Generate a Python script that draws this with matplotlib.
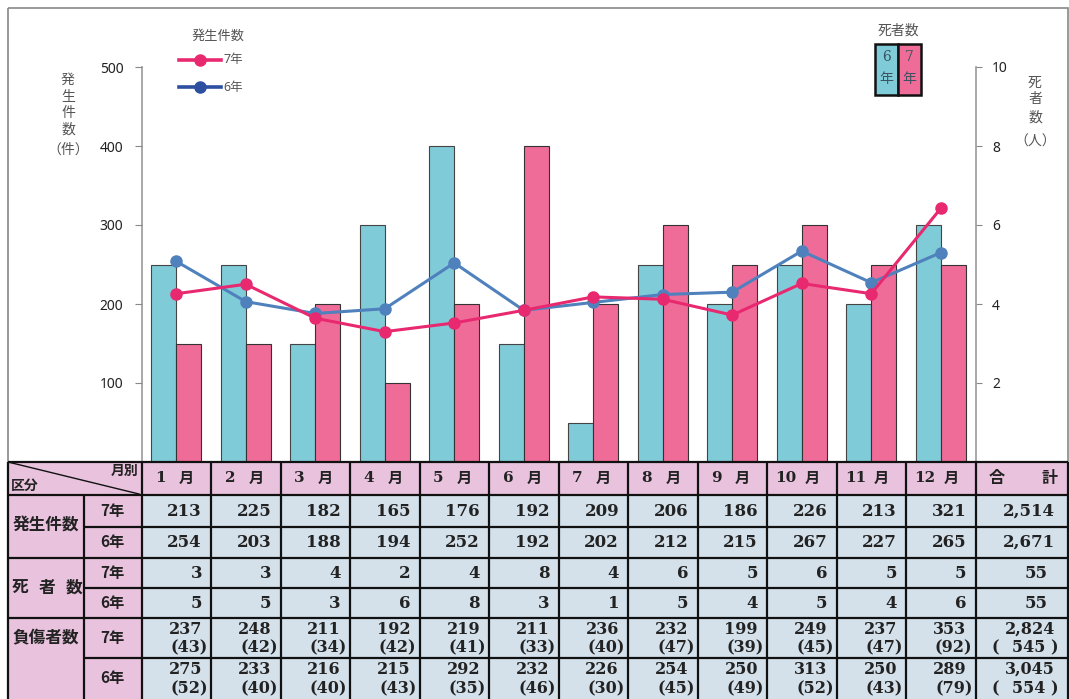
import matplotlib.pyplot as plt
import numpy as np
from matplotlib.patches import Rectangle

plt.rcParams['font.family'] = ['Noto Sans', 'Noto Sans CJK JP', 'DejaVu Sans']

months = ['1', '2', '3', '4', '5', '6', '7', '8', '9', '10', '11', '12']
inc7 = [213, 225, 182, 165, 176, 192, 209, 206, 186, 226, 213, 321]
inc6 = [254, 203, 188, 194, 252, 192, 202, 212, 215, 267, 227, 265]
dead7 = [3, 3, 4, 2, 4, 8, 4, 6, 5, 6, 5, 5]
dead6 = [5, 5, 3, 6, 8, 3, 1, 5, 4, 5, 4, 6]
inj7 = [237, 248, 211, 192, 219, 211, 236, 232, 199, 249, 237, 353]
inj7_sev = [43, 42, 34, 42, 41, 33, 40, 47, 39, 45, 47, 92]
inj6 = [275, 233, 216, 215, 292, 232, 226, 254, 250, 313, 250, 289]
inj6_sev = [52, 40, 40, 43, 35, 46, 30, 45, 49, 52, 43, 79]

W, H = 1069, 699
C_BAR6 = '#80CBD8'
C_BAR7 = '#F06C98'
C_LINE7 = '#E8296F'
C_LINE6 = '#4F81BD'
C_HEAD = '#E9C3DE'
C_CELL = '#D4E1EB'

fig = plt.figure(figsize=(W / 100, H / 100), dpi=100)
ax = fig.add_axes([141.5 / W, (H - 462) / H, (975.5 - 141.5) / W, (462 - 67) / H])
x = np.arange(len(months))

# bars = deaths (right axis)
ax.bar(x - 0.18, dead6, 0.36, color=C_BAR6, edgecolor='#444', lw=0.8)
ax.bar(x + 0.18, dead7, 0.36, color=C_BAR7, edgecolor='#333', lw=0.8)
ax.set_xlim(-0.5, 11.5)
ax.set_ylim(0, 10)
ax.set_xticks([])

# lines = incidents (left axis)
ax2 = ax.twinx()
ax2.plot(x, inc6, color=C_LINE6, lw=2.2, marker='o', ms=8)
ax2.plot(x, inc7, color=C_LINE7, lw=2.2, marker='o', ms=8)
ax2.set_ylim(0, 500)
ax2.yaxis.tick_left()
ax2.set_yticks([100, 200, 300, 400, 500])
ax2.tick_params(axis='y', direction='out', length=5, color='#888', labelsize=10,
                labelcolor='#222', pad=8)
for s in ax2.spines.values():
    s.set_visible(False)

ax.yaxis.tick_right()
ax.set_yticks([2, 4, 6, 8, 10])
ax.tick_params(axis='y', direction='out', length=4, color='#888', labelsize=10,
               labelcolor='#222', pad=8)
for s in ['top', 'bottom']:
    ax.spines[s].set_visible(False)
for s in ['left', 'right']:
    ax.spines[s].set_color('#999')
    ax.spines[s].set_linewidth(1.2)

# overlay in pixel coordinates for legend, labels, table
ov = fig.add_axes([0, 0, 1, 1])
ov.set_xlim(0, W)
ov.set_ylim(H, 0)
ov.set_axis_off()

ov.add_patch(Rectangle((8, 8), 1060, 720, fill=False, ec='#888', lw=1.2))

# axis titles (vertical)
for ch, yy in zip(['発', '生', '件', '数', '（件）'], [80, 97, 113, 130, 150]):
    ov.text(68, yy, ch, ha='center', va='center', fontsize=10, color='#555')
for ch, yy in zip(['死', '者', '数', '（人）'], [83, 100, 118, 142]):
    ov.text(1035, yy, ch, ha='center', va='center', fontsize=10, color='#555')

# line legend
ov.text(218, 36, '発生件数', ha='center', va='center', fontsize=9.5, color='#555')
ov.plot([179, 221], [60, 60], color=C_LINE7, lw=2.6)
ov.plot([200], [60], 'o', color=C_LINE7, ms=8)
ov.text(223, 60, '7年', ha='left', va='center', fontsize=9, color='#555')
ov.plot([179, 221], [87, 87], color='#2C4FA0', lw=2.6)
ov.plot([200], [87], 'o', color='#2C4FA0', ms=8)
ov.text(223, 87, '6年', ha='left', va='center', fontsize=9, color='#555')

# bar legend
ov.text(898, 31, '死者数', ha='center', va='center', fontsize=10, color='#555')
ov.add_patch(Rectangle((875, 44), 23, 51, fc=C_BAR6, ec='#111', lw=1.8))
ov.add_patch(Rectangle((898, 44), 23, 51, fc=C_BAR7, ec='#111', lw=1.8))
for cx, d in [(886.5, '6'), (909.5, '7')]:
    ov.text(cx, 57, d, ha='center', va='center', fontsize=10, color='#3B5360',
            family=['DejaVu Serif'])
    ov.text(cx, 80, '年', ha='center', va='center', fontsize=10, color='#3B5360')

# ---- table ----
col_edges = [141.5 + 69.5 * i for i in range(13)] + [1068]
rows = [461.5, 495, 527, 558, 588, 618, 658, 740]
lab_l, lab_r = 8, 84

# fills
ov.add_patch(Rectangle((lab_l, rows[0]), 1068 - lab_l, rows[1] - rows[0], fc=C_HEAD, ec='none'))
ov.add_patch(Rectangle((lab_l, rows[1]), 141.5 - lab_l, rows[-1] - rows[1], fc=C_HEAD, ec='none'))
ov.add_patch(Rectangle((141.5, rows[1]), 1068 - 141.5, rows[-1] - rows[1], fc=C_CELL, ec='none'))

lk = dict(color='#111', lw=1.6, solid_capstyle='butt')
for i, yy in enumerate(rows[:-1]):
    x0 = lab_l if i in (0, 1, 3, 5) else lab_r
    ov.plot([x0, 1068], [yy, yy], **lk)
ov.plot([lab_l, lab_l], [rows[0], rows[-1]], **lk)
ov.plot([lab_r, lab_r], [rows[1], rows[-1]], **lk)
for xx in col_edges:
    ov.plot([xx, xx], [rows[0], rows[-1]], **lk)
ov.plot([lab_l + 2, 139], [rows[0] + 1, rows[1] - 1], color='#111', lw=1.0)

bold_serif = dict(family=['DejaVu Serif', 'Noto Sans CJK JP'], fontweight='bold', color='#222')
bold_jp = dict(family=['Noto Sans CJK JP'], fontweight='bold', color='#222')

ov.text(138, 471, '月別', ha='right', va='center', fontsize=10, **bold_jp)
ov.text(11, 486, '区分', ha='left', va='center', fontsize=10, **bold_jp)

for i, m in enumerate(months):
    c0 = col_edges[i]
    ov.text(c0 + 19, 478, m, ha='center', va='center', fontsize=11, **bold_serif)
    ov.text(c0 + 45, 478, '月', ha='center', va='center', fontsize=11, **bold_jp)
ov.text(997, 478, '合', ha='center', va='center', fontsize=11.5, **bold_jp)
ov.text(1049, 478, '計', ha='center', va='center', fontsize=11.5, **bold_jp)

ov.text(46, 526, '発生件数', ha='center', va='center', fontsize=12, **bold_jp)
for ch, xx in zip(['死', '者', '数'], [20, 47, 74]):
    ov.text(xx, 588, ch, ha='center', va='center', fontsize=12, **bold_jp)
ov.text(46, 638, '負傷者数', ha='center', va='center', fontsize=12, **bold_jp)
for yy, lab in zip([511, 542.5, 573, 603, 638, 678], ['7年', '6年'] * 3):
    ov.text(112, yy, lab, ha='center', va='center', fontsize=11, **bold_jp)

single_rows = [(511, inc7), (542.5, inc6), (573, dead7), (603, dead6)]
for yy, vals in single_rows:
    for i, v in enumerate(vals):
        ov.text(col_edges[i + 1] - 9, yy, str(v), ha='right', va='center',
                fontsize=12, **bold_serif)
    ov.text(1055 if sum(vals) >= 1000 else 1048, yy, f'{sum(vals):,}',
            ha='right', va='center', fontsize=12, **bold_serif)

for (y1, y2), vals, sev in [((629, 648), inj7, inj7_sev), ((669, 689), inj6, inj6_sev)]:
    for i in range(len(vals)):
        ov.text(col_edges[i + 1] - 9, y1, str(vals[i]), ha='right', va='center',
                fontsize=11.5, **bold_serif)
        ov.text(col_edges[i + 1] - 3, y2, f'({sev[i]})', ha='right', va='center',
                fontsize=11.5, **bold_serif)
    ov.text(1055, y1, f'{sum(vals):,}', ha='right', va='center', fontsize=11.5, **bold_serif)
    ov.text(995, y2, '(', ha='center', va='center', fontsize=11.5, **bold_serif)
    ov.text(1058, y2, f'{sum(sev)} )', ha='right', va='center', fontsize=11.5, **bold_serif)

fig.savefig('out.png', dpi=100)
